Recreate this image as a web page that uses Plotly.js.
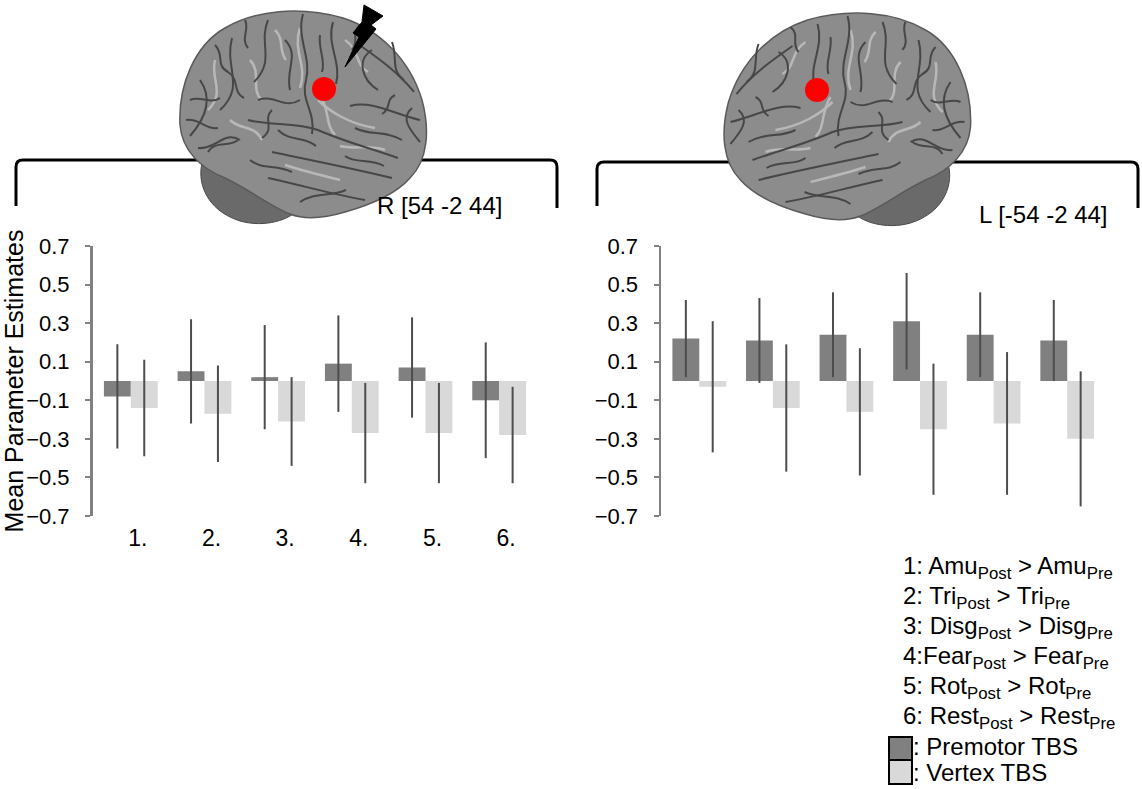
<!DOCTYPE html>
<html>
<head>
<meta charset="utf-8">
<script src="https://cdn.plot.ly/plotly-3.0.1.min.js"></script>
<style>
  html, body { margin: 0; padding: 0; background: #fff; }
  #chart { width: 1142px; height: 789px; }
</style>
</head>
<body>
<div id="chart"></div>
<script>
// contrasts 1..6
const categories = ['1.', '2.', '3.', '4.', '5.', '6.'];

// right premotor ROI R [54 -2 44]
const premotorR = [-0.08, 0.05, 0.02, 0.09, 0.07, -0.10];
const premotorRErr = [0.27, 0.27, 0.27, 0.25, 0.26, 0.30];
const vertexR = [-0.14, -0.17, -0.21, -0.27, -0.27, -0.28];
const vertexRErr = [0.25, 0.25, 0.23, 0.26, 0.26, 0.25];

// left premotor ROI L [-54 -2 44]
const premotorL = [0.22, 0.21, 0.24, 0.31, 0.24, 0.21];
const premotorLErr = [0.20, 0.22, 0.22, 0.25, 0.22, 0.21];
const vertexL = [-0.03, -0.14, -0.16, -0.25, -0.22, -0.30];
const vertexLErr = [0.34, 0.33, 0.33, 0.34, 0.37, 0.35];

const yTicks = [-0.7, -0.5, -0.3, -0.1, 0.1, 0.3, 0.5, 0.7];

const contrastLabels = [
    '1: Amu<sub>Post</sub> > Amu<sub>Pre</sub>',
    '2: Tri<sub>Post</sub> > Tri<sub>Pre</sub>',
    '3: Disg<sub>Post</sub> > Disg<sub>Pre</sub>',
    '4:Fear<sub>Post</sub> > Fear<sub>Pre</sub>',
    '5: Rot<sub>Post</sub> > Rot<sub>Pre</sub>',
    '6: Rest<sub>Post</sub> > Rest<sub>Pre</sub>'
];
const groupLabels = [': Premotor TBS', ': Vertex TBS'];

const W = 1142, H = 789;
const FONT = 'Liberation Sans, Arial, sans-serif';
const DARK = '#808080';
const LIGHT = '#d9d9d9';
const fx = x => x / W;
const fy = y => 1 - y / H;

// turn a pixel path into paper coords (mirror for the left hemisphere)
function pxPath(d, mirror) {
    return d.replace(/(-?\d+(?:\.\d+)?),(-?\d+(?:\.\d+)?)/g, (m, a, b) => {
        let x = +a, y = +b;
        if (mirror) { x = 1150.5 - x; y = y + 2; }
        return fx(x).toFixed(5) + ',' + fy(y).toFixed(5);
    });
}

function barTrace(y, err, color, xa, ya) {
    return {
        type: 'bar',
        x: categories,
        y: y,
        xaxis: xa,
        yaxis: ya,
        marker: { color: color },
        error_y: { type: 'data', array: err, symmetric: true, color: '#4d4d4d', thickness: 2, width: 0 },
        hoverinfo: 'y'
    };
}

const data = [
    barTrace(premotorR, premotorRErr, DARK, 'x', 'y'),
    barTrace(vertexR, vertexRErr, LIGHT, 'x', 'y'),
    barTrace(premotorL, premotorLErr, DARK, 'x2', 'y2'),
    barTrace(vertexL, vertexLErr, LIGHT, 'x2', 'y2')
];

function xAxis(dom, labels) {
    return {
        domain: dom,
        type: 'category',
        range: [-0.52, 5.5],
        showline: false,
        showgrid: false,
        zeroline: false,
        ticks: '',
        showticklabels: labels,
        ticklabelshift: 7,
        ticklabelstandoff: 6,
        tickfont: { family: FONT, size: 23, color: '#000' },
        fixedrange: true
    };
}

function yAxis(anchor) {
    return {
        anchor: anchor,
        domain: [fy(516), fy(246)],
        range: [-0.7, 0.7],
        tickvals: yTicks,
        tickformat: '.1f',
        showline: true,
        linecolor: '#808080',
        linewidth: 2.5,
        ticks: 'outside',
        ticklen: 5,
        tickwidth: 2,
        tickcolor: '#808080',
        ticklabelstandoff: 11,
        showgrid: false,
        zeroline: false,
        tickfont: { family: FONT, size: 22, color: '#000' },
        fixedrange: true
    };
}

const yLeft = yAxis('x');
yLeft.title = { text: 'Mean Parameter Estimates', font: { family: FONT, size: 25, color: '#000' }, standoff: 4 };

// brain sketch, drawn for the right hemisphere then mirrored
const brainOutline = 'M 180,125 C 178,85 195,45 225,28 C 255,10 300,6 343,18 C 380,30 410,60 422,100 C 430,130 428,160 410,178 C 395,195 370,205 345,212 C 325,218 305,220 290,214 C 270,206 250,190 225,178 C 200,168 182,150 180,125 Z';
const cerebellum = 'M 203,160 C 196,180 205,210 240,221 C 265,228 290,220 300,208 C 290,195 270,185 250,178 C 230,172 212,168 203,160 Z';
const sulci = [
    'M 398,158 C 370,148 345,142 318,130 C 295,122 270,126 248,120',
    'M 303,14 C 296,38 312,58 306,80 C 300,100 316,112 312,134',
    'M 333,22 C 326,45 342,62 336,84',
    'M 392,178 C 360,170 320,162 272,152',
    'M 358,44 C 378,58 398,72 414,92',
    'M 350,106 C 372,100 394,114 420,120',
    'M 268,20 C 258,44 276,60 254,82',
    'M 232,38 C 224,68 246,86 220,110',
    'M 200,80 C 214,100 204,120 190,136',
    'M 365,200 C 335,195 305,186 268,178',
    'M 258,100 C 276,94 284,110 300,100',
    'M 240,140 C 225,130 215,150 198,148',
    'M 378,90 C 362,80 356,60 372,50',
    'M 285,40 C 300,55 285,70 290,90',
    'M 215,45 C 225,55 215,65 228,72 C 240,80 232,92 244,98',
    'M 190,100 C 200,95 210,105 220,98',
    'M 186,120 C 200,118 205,130 218,128',
    'M 208,152 C 215,140 228,148 238,140',
    'M 320,35 C 318,50 326,60 322,72',
    'M 355,128 C 370,136 385,130 402,140',
    'M 392,42 C 398,58 390,70 404,80',
    'M 412,108 C 400,118 410,130 420,142',
    'M 278,130 C 290,142 305,136 316,146',
    'M 300,202 C 315,192 330,197 346,190',
    'M 250,160 C 262,170 276,164 292,172',
    'M 345,156 C 356,164 370,158 384,166',
    'M 245,20 C 250,30 240,38 248,48',
    'M 360,25 C 350,34 360,40 352,50',
    'M 272,110 C 262,120 276,128 262,138',
    'M 395,95 C 385,100 392,108 382,114'
];
const sulciLight = [
    'M 300,28 C 292,50 308,66 300,88',
    'M 375,128 C 350,124 330,112 318,100',
    'M 250,60 C 262,72 250,90 262,100',
    'M 215,60 C 210,80 226,92 208,110',
    'M 340,180 C 320,175 300,170 285,165',
    'M 345,40 C 360,50 355,65 368,72',
    'M 385,150 C 370,144 355,150 340,146',
    'M 230,120 C 240,130 255,125 262,140',
    'M 320,95 C 330,110 325,125 335,135',
    'M 275,30 C 285,40 278,50 286,60'
];

const shapes = [];

// brackets
shapes.push({ type: 'path', xref: 'paper', yref: 'paper', line: { color: '#000', width: 3 },
    path: pxPath('M 16,206 L 16,167 Q 16,160 23,160 L 550,160 Q 557,160 557,167 L 557,208') });
shapes.push({ type: 'path', xref: 'paper', yref: 'paper', line: { color: '#000', width: 3 },
    path: pxPath('M 597,206 L 597,169 Q 597,162 604,162 L 1131,162 Q 1138,162 1138,169 L 1138,208') });

[false, true].forEach(mirror => {
    shapes.push({ type: 'path', xref: 'paper', yref: 'paper', fillcolor: '#6a6a6a',
        line: { color: '#4a4a4a', width: 1 }, path: pxPath(cerebellum, mirror) });
    shapes.push({ type: 'path', xref: 'paper', yref: 'paper', fillcolor: '#8c8c8c',
        line: { color: '#5a5a5a', width: 1.5 }, path: pxPath(brainOutline, mirror) });
    sulciLight.forEach(s => shapes.push({ type: 'path', xref: 'paper', yref: 'paper',
        line: { color: '#b8b8b8', width: 2.5 }, path: pxPath(s, mirror) }));
    sulci.forEach(s => shapes.push({ type: 'path', xref: 'paper', yref: 'paper',
        line: { color: '#474747', width: 2 }, path: pxPath(s, mirror) }));
});

// red ROI markers
[[324, 89], [817, 90]].forEach(p => {
    shapes.push({ type: 'circle', xref: 'paper', yref: 'paper', fillcolor: '#ff0000', line: { width: 0 },
        x0: fx(p[0] - 12), x1: fx(p[0] + 12), y0: fy(p[1] + 12), y1: fy(p[1] - 12) });
});

// TMS bolt
shapes.push({ type: 'path', xref: 'paper', yref: 'paper', fillcolor: '#000', line: { color: '#000', width: 1 },
    path: pxPath('M 364,5 L 383,16 L 371,25 L 376,29 L 345,67 L 359,37 L 353,33 L 362,22 Z') });

// legend swatches
shapes.push({ type: 'rect', xref: 'paper', yref: 'paper', fillcolor: DARK, line: { color: '#000', width: 2 },
    x0: fx(889), x1: fx(912), y0: fy(760), y1: fy(737) });
shapes.push({ type: 'rect', xref: 'paper', yref: 'paper', fillcolor: LIGHT, line: { color: '#000', width: 2 },
    x0: fx(889), x1: fx(912), y0: fy(784), y1: fy(760) });

const annotations = [];
annotations.push({ xref: 'paper', yref: 'paper', x: fx(439), y: fy(206), text: 'R [54 -2 44]',
    showarrow: false, xanchor: 'center', yanchor: 'middle', font: { family: FONT, size: 24, color: '#000' } });
annotations.push({ xref: 'paper', yref: 'paper', x: fx(1043), y: fy(214), text: 'L [-54 -2 44]',
    showarrow: false, xanchor: 'center', yanchor: 'middle', font: { family: FONT, size: 24, color: '#000' } });

contrastLabels.forEach((t, i) => {
    annotations.push({ xref: 'paper', yref: 'paper', x: fx(901), y: fy(567 + 30 * i), text: t,
        showarrow: false, xanchor: 'left', yanchor: 'middle', font: { family: FONT, size: 24, color: '#000' } });
});
groupLabels.forEach((t, i) => {
    annotations.push({ xref: 'paper', yref: 'paper', x: fx(911), y: fy(746 + 26 * i), text: t,
        showarrow: false, xanchor: 'left', yanchor: 'middle', font: { family: FONT, size: 24, color: '#000' } });
});

const layout = {
    width: W,
    height: H,
    margin: { l: 0, r: 0, t: 0, b: 0 },
    paper_bgcolor: '#fff',
    plot_bgcolor: 'rgba(0,0,0,0)',
    showlegend: false,
    barmode: 'group',
    bargap: 0.27,
    bargroupgap: 0,
    font: { family: FONT, color: '#000' },
    xaxis: xAxis([fx(92.5), fx(536)], true),
    yaxis: yLeft,
    xaxis2: xAxis([fx(661), fx(1104)], false),
    yaxis2: yAxis('x2'),
    shapes: shapes,
    annotations: annotations
};

Plotly.newPlot('chart', data, layout, { displayModeBar: false, staticPlot: true });
</script>
</body>
</html>
